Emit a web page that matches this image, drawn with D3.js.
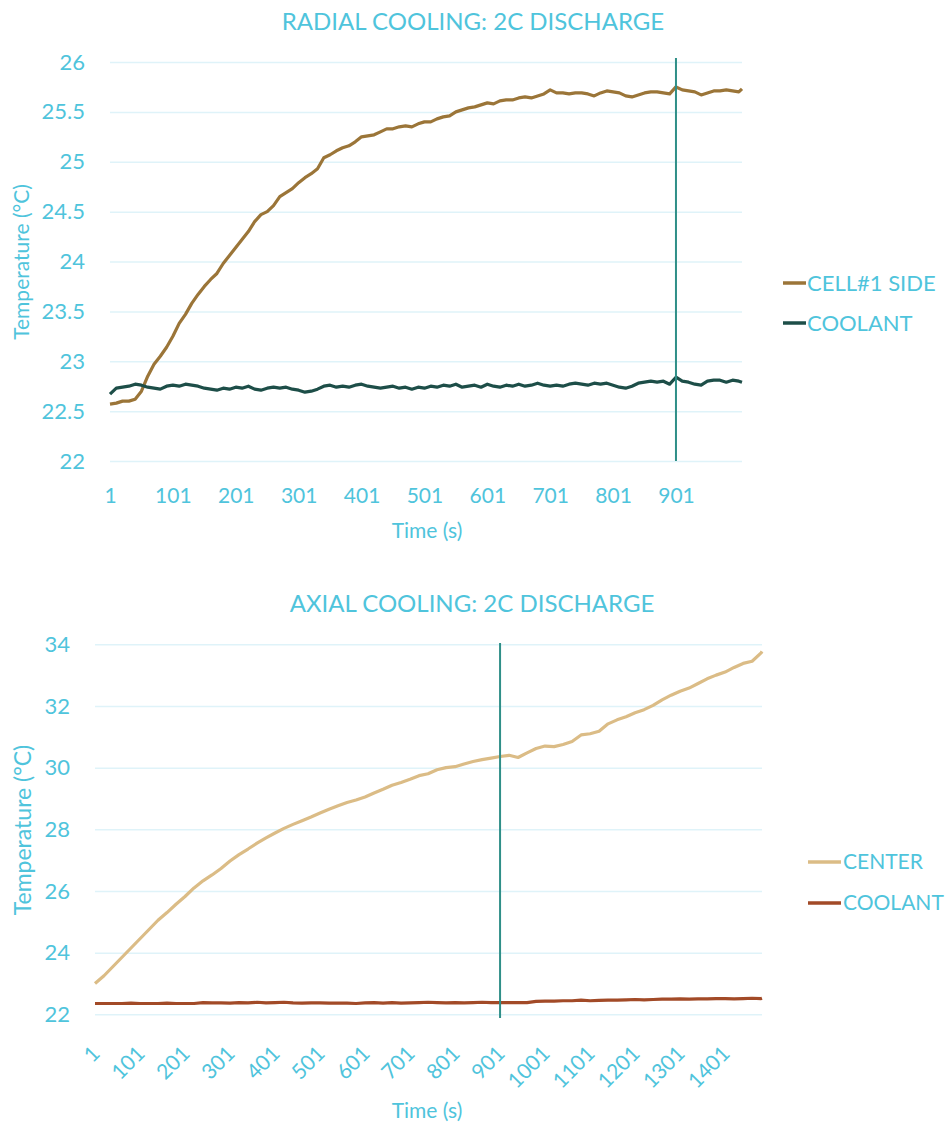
<!DOCTYPE html>
<html>
<head>
<meta charset="utf-8">
<script src="https://cdn.jsdelivr.net/npm/d3@7"></script>
<style>
  body { margin: 0; background: #fff; }
  text { font-family: Lato, "Open Sans", sans-serif; fill: #4fc4dc; }
</style>
</head>
<body>
<div id="chart"></div>
<script>
// ---- data ----
var radialTime = [1,11,21,31,41,51,61,71,81,91,101,111,121,131,141,151,161,171,181,191,
  201,211,221,231,241,251,261,271,281,291,301,311,321,331,341,351,361,371,381,391,
  401,411,421,431,441,451,461,471,481,491,501,511,521,531,541,551,561,571,581,591,
  601,611,621,631,641,651,661,671,681,691,701,711,721,731,741,751,761,771,781,791,
  801,811,821,831,841,851,861,871,881,891,901,911,921,931,941,951,961,971,981,991,1001,1006];

var radialCell = [22.57,22.58,22.60,22.60,22.62,22.70,22.85,22.97,23.05,23.14,
  23.25,23.38,23.47,23.58,23.67,23.75,23.82,23.88,23.98,24.06,
  24.14,24.22,24.30,24.40,24.47,24.50,24.56,24.65,24.69,24.73,
  24.79,24.84,24.88,24.93,25.04,25.07,25.11,25.14,25.16,25.20,
  25.25,25.26,25.27,25.30,25.33,25.33,25.35,25.36,25.35,25.38,
  25.40,25.40,25.43,25.45,25.46,25.50,25.52,25.54,25.55,25.57,
  25.59,25.58,25.61,25.62,25.62,25.64,25.65,25.64,25.66,25.68,
  25.72,25.69,25.69,25.68,25.69,25.69,25.68,25.66,25.69,25.71,
  25.70,25.69,25.66,25.65,25.67,25.69,25.70,25.70,25.69,25.68,
  25.75,25.72,25.71,25.70,25.67,25.69,25.71,25.71,25.72,25.71,
  25.70,25.73];

var radialCoolant = [22.67,22.73,22.74,22.75,22.77,22.76,22.74,22.73,22.72,22.75,
  22.76,22.75,22.77,22.76,22.75,22.73,22.72,22.71,22.73,22.72,
  22.74,22.73,22.75,22.72,22.71,22.73,22.74,22.73,22.74,22.72,
  22.71,22.69,22.70,22.72,22.75,22.76,22.74,22.75,22.74,22.76,
  22.77,22.75,22.74,22.73,22.74,22.75,22.73,22.74,22.72,22.74,
  22.73,22.75,22.74,22.76,22.75,22.77,22.74,22.75,22.76,22.74,
  22.77,22.75,22.74,22.76,22.75,22.77,22.75,22.76,22.78,22.76,
  22.75,22.76,22.75,22.77,22.78,22.77,22.76,22.78,22.77,22.78,
  22.76,22.74,22.73,22.75,22.78,22.79,22.80,22.79,22.80,22.77,
  22.84,22.80,22.79,22.77,22.76,22.80,22.81,22.81,22.79,22.81,
  22.80,22.79];

var axialTime = [1,21,41,61,81,101,121,141,161,181,201,221,241,261,281,301,321,341,361,381,
  401,421,441,461,481,501,521,541,561,581,601,621,641,661,681,701,721,741,761,781,
  801,821,841,861,881,901,921,941,961,981,1001,1021,1041,1061,1081,1101,1121,1141,1161,1181,
  1201,1221,1241,1261,1281,1301,1321,1341,1361,1381,1401,1421,1441,1461,1481,1483];

var axialCenter = [23.00,23.25,23.55,23.85,24.15,24.45,24.75,25.05,25.30,25.57,
  25.82,26.10,26.33,26.52,26.73,26.97,27.18,27.36,27.55,27.72,
  27.88,28.03,28.16,28.28,28.40,28.53,28.65,28.76,28.87,28.95,
  29.05,29.18,29.30,29.43,29.52,29.62,29.74,29.80,29.93,30.00,
  30.03,30.12,30.20,30.26,30.31,30.36,30.40,30.33,30.48,30.62,
  30.70,30.68,30.75,30.85,31.06,31.10,31.18,31.42,31.55,31.65,
  31.78,31.88,32.02,32.20,32.35,32.48,32.58,32.73,32.88,33.00,
  33.10,33.25,33.38,33.45,33.72,33.77];

var axialCoolant = [22.35,22.35,22.35,22.35,22.36,22.35,22.35,22.35,22.36,22.35,
  22.35,22.35,22.38,22.37,22.37,22.36,22.38,22.37,22.39,22.37,
  22.38,22.39,22.37,22.36,22.37,22.37,22.36,22.36,22.36,22.35,
  22.37,22.38,22.36,22.38,22.36,22.37,22.38,22.39,22.38,22.37,
  22.38,22.37,22.38,22.39,22.38,22.38,22.38,22.38,22.38,22.42,
  22.43,22.43,22.44,22.44,22.46,22.44,22.45,22.46,22.46,22.47,
  22.48,22.47,22.48,22.49,22.49,22.50,22.49,22.50,22.50,22.51,
  22.51,22.50,22.51,22.52,22.51,22.52];

var radialTicksX = [1,101,201,301,401,501,601,701,801,901];
var radialTicksY = [22,22.5,23,23.5,24,24.5,25,25.5,26];
var axialTicksX = [1,101,201,301,401,501,601,701,801,901,1001,1101,1201,1301,1401];
var axialTicksY = [22,24,26,28,30,32,34];
var markerTime = 901;

var textColor = "#4fc4dc";
var gridColor = "#dff3f9";
var markerColor = "#2f8f88";

var svg = d3.select("#chart").append("svg")
  .attr("width", 950)
  .attr("height", 1127);

// ---------- top panel : radial cooling ----------
var x1 = d3.scaleLinear().domain([1, 1006]).range([110, 742]);
var y1 = d3.scaleLinear().domain([22, 26]).range([461, 62]);
var g1 = svg.append("g");

g1.append("g")
  .attr("transform", "translate(110,0)")
  .call(d3.axisLeft(y1).tickValues(radialTicksY).tickSize(-632).tickPadding(25)
    .tickFormat(d3.format("~g")))
  .call(function(g){
    g.select(".domain").remove();
    g.selectAll(".tick line").attr("stroke", gridColor).attr("stroke-width", 1.5);
    g.selectAll(".tick text").attr("font-size", 22).attr("fill", textColor);
  });

g1.append("g")
  .attr("transform", "translate(0,461)")
  .call(d3.axisBottom(x1).tickValues(radialTicksX).tickSize(0).tickPadding(27)
    .tickFormat(d3.format("d")))
  .call(function(g){
    g.select(".domain").remove();
    g.selectAll(".tick text").attr("font-size", 21).attr("fill", textColor);
  });

var line1 = d3.line()
  .x(function(d){ return x1(d[0]); })
  .y(function(d){ return y1(d[1]); });

g1.append("path")
  .datum(d3.zip(radialTime, radialCell))
  .attr("d", line1).attr("fill", "none")
  .attr("stroke", "#9b7538").attr("stroke-width", 3.2)
  .attr("stroke-linejoin", "round");

g1.append("path")
  .datum(d3.zip(radialTime, radialCoolant))
  .attr("d", line1).attr("fill", "none")
  .attr("stroke", "#1d4e48").attr("stroke-width", 3.2)
  .attr("stroke-linejoin", "round");

g1.append("line")
  .attr("x1", x1(markerTime)).attr("x2", x1(markerTime))
  .attr("y1", 58).attr("y2", y1(22))
  .attr("stroke", markerColor).attr("stroke-width", 2);

g1.append("text").attr("x", 473).attr("y", 30)
  .attr("text-anchor", "middle").attr("font-size", 24)
  .text("RADIAL COOLING: 2C DISCHARGE");

g1.append("text").attr("x", 427).attr("y", 538)
  .attr("text-anchor", "middle").attr("font-size", 21)
  .text("Time (s)");

g1.append("text")
  .attr("transform", "translate(29,262) rotate(-90)")
  .attr("text-anchor", "middle").attr("font-size", 21)
  .text("Temperature (°C)");

var legend1 = [["CELL#1 SIDE", "#9b7538", 283], ["COOLANT", "#1d4e48", 323]];
legend1.forEach(function(l){
  g1.append("line").attr("x1", 783).attr("x2", 806).attr("y1", l[2]).attr("y2", l[2])
    .attr("stroke", l[1]).attr("stroke-width", 3.5);
  g1.append("text").attr("x", 807).attr("y", l[2]).attr("dy", "0.35em")
    .attr("font-size", 22).text(l[0]);
});

// ---------- bottom panel : axial cooling ----------
var x2 = d3.scaleLinear().domain([1, 1483]).range([95, 762]);
var y2 = d3.scaleLinear().domain([22, 34]).range([1014.3, 644.3]);
var g2 = svg.append("g");

g2.append("g")
  .attr("transform", "translate(95,0)")
  .call(d3.axisLeft(y2).tickValues(axialTicksY).tickSize(-667).tickPadding(25))
  .call(function(g){
    g.select(".domain").remove();
    g.selectAll(".tick line").attr("stroke", gridColor).attr("stroke-width", 1.5);
    g.selectAll(".tick text").attr("font-size", 22).attr("fill", textColor);
  });

// rotated category labels
g2.selectAll(".xlab")
  .data(axialTicksX)
  .enter().append("text")
  .attr("class", "xlab")
  .attr("font-size", 21)
  .attr("text-anchor", "end")
  .attr("transform", function(d){ return "translate(" + (x2(d) + 6) + ",1055) rotate(-45)"; })
  .text(function(d){ return d; });

var line2 = d3.line()
  .x(function(d){ return x2(d[0]); })
  .y(function(d){ return y2(d[1]); });

g2.append("path")
  .datum(d3.zip(axialTime, axialCenter))
  .attr("d", line2).attr("fill", "none")
  .attr("stroke", "#dbbc86").attr("stroke-width", 3.2)
  .attr("stroke-linejoin", "round");

g2.append("path")
  .datum(d3.zip(axialTime, axialCoolant))
  .attr("d", line2).attr("fill", "none")
  .attr("stroke", "#a24a27").attr("stroke-width", 3.2)
  .attr("stroke-linejoin", "round");

g2.append("line")
  .attr("x1", x2(markerTime)).attr("x2", x2(markerTime))
  .attr("y1", 643).attr("y2", 1018)
  .attr("stroke", markerColor).attr("stroke-width", 2);

g2.append("text").attr("x", 472).attr("y", 612)
  .attr("text-anchor", "middle").attr("font-size", 24)
  .text("AXIAL COOLING: 2C DISCHARGE");

g2.append("text").attr("x", 427).attr("y", 1118)
  .attr("text-anchor", "middle").attr("font-size", 21)
  .text("Time (s)");

g2.append("text")
  .attr("transform", "translate(31,830) rotate(-90)")
  .attr("text-anchor", "middle").attr("font-size", 23)
  .text("Temperature (°C)");

var legend2 = [["CENTER", "#dbbc86", 862], ["COOLANT", "#a24a27", 903]];
legend2.forEach(function(l){
  g2.append("line").attr("x1", 808).attr("x2", 841).attr("y1", l[2]).attr("y2", l[2])
    .attr("stroke", l[1]).attr("stroke-width", 3.5);
  g2.append("text").attr("x", 843).attr("y", l[2]).attr("dy", "0.35em")
    .attr("font-size", 21).text(l[0]);
});
</script>
</body>
</html>
